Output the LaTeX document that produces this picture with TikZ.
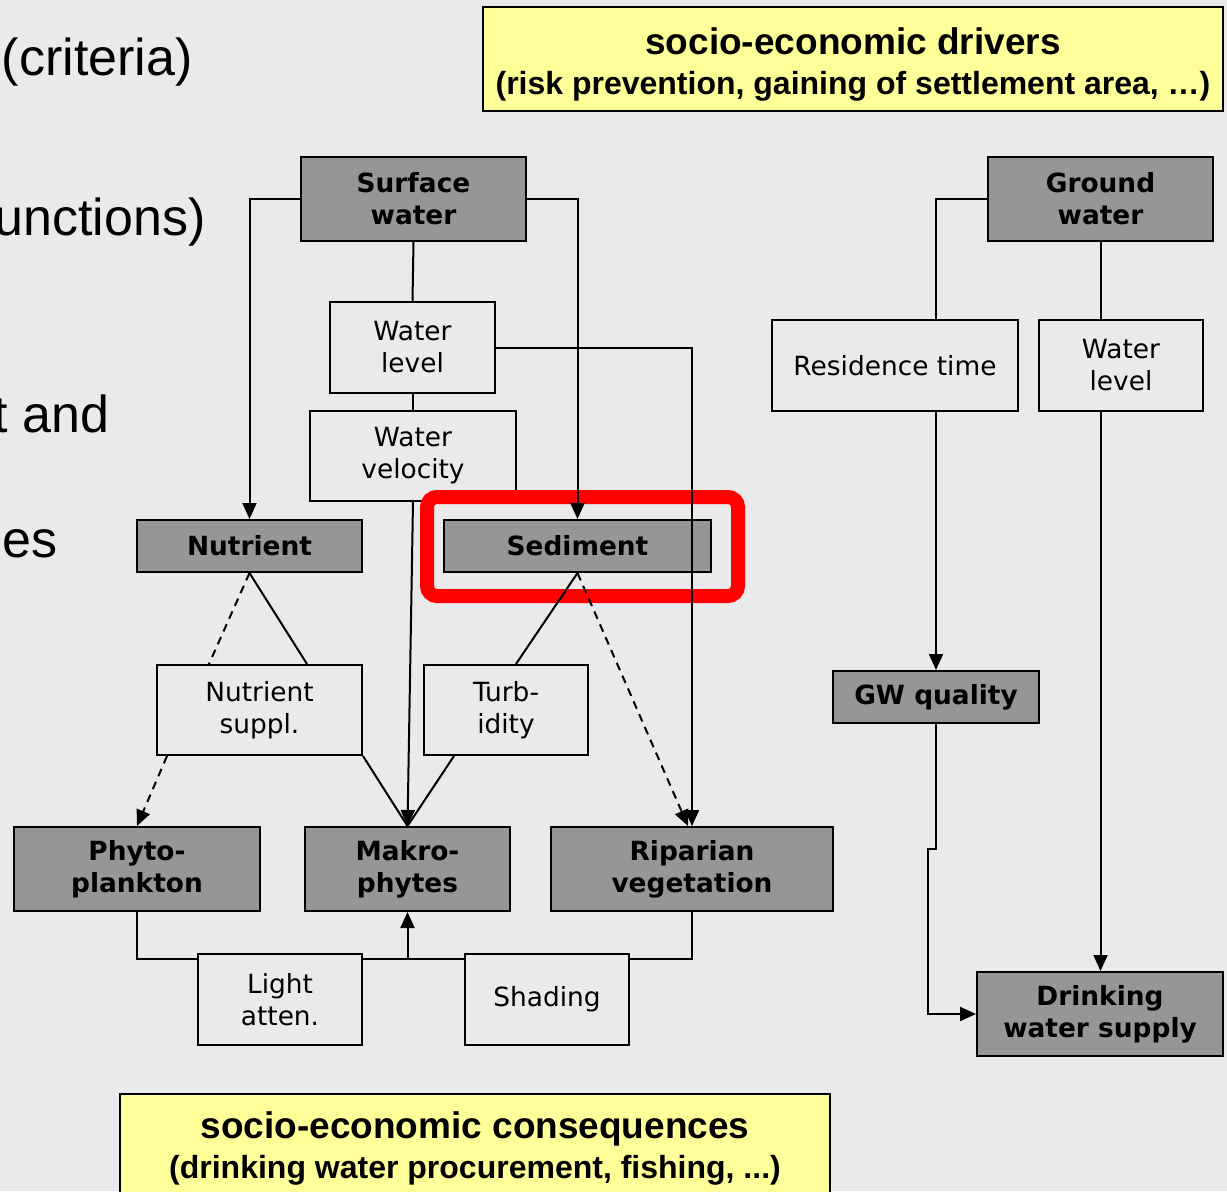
\documentclass[tikz,border=0pt]{standalone}
\usepackage{fontspec}
\setmainfont{DejaVu Sans}
\newfontfamily\arialfont{Liberation Sans}
\usetikzlibrary{arrows.meta,calc}
\definecolor{bgc}{RGB}{234,234,234}
\definecolor{boxgray}{RGB}{150,150,150}
\definecolor{noteyellow}{RGB}{255,255,153}
\tikzset{
  base/.style={draw=black, line width=1pt, align=center, inner sep=0pt,
    font=\fontsize{13.2}{16}\selectfont},
  mainbox/.style={base, fill=boxgray, font=\bfseries\fontsize{13.2}{16}\selectfont},
  factor/.style={base, fill=bgc},
  note/.style={draw=black, line width=1pt, fill=noteyellow, align=center,
    inner sep=0pt, font=\arialfont\bfseries\fontsize{16}{20}\selectfont},
  side/.style={font=\arialfont\fontsize{26}{30}\selectfont, inner sep=0pt, anchor=base east},
  link/.style={line width=1pt},
  tip/.style={-{Triangle[length=8pt,width=7pt]}},
  arr/.style={link, tip},
  weak/.style={line width=1pt, dash pattern=on 4pt off 3pt},
}
\begin{document}
\begin{tikzpicture}[x=0.5pt,y=-0.5pt]
\useasboundingbox (0,0) rectangle (1227,1191);
\clip (0,0) rectangle (1227,1191);
\fill[bgc] (0,0) rectangle (1227,1191);

% fragments of the slide text on the left
\node[side] (t1) at (193,75) {(criteria)};
\node[side] (t2) at (206,235) {unctions)};
\node[side] (t3) at (110,432) {t and};
\node[side] (t4) at (58,557) {es};

% driver and consequence notes
\node[note, minimum width=370pt, minimum height=52pt] (drv) at (853,59)
  {\rule{0pt}{18.5pt}{\fontsize{18.5}{20}\selectfont socio-economic drivers}\\
   (risk prevention, gaining of settlement area, \dots)};
\node[note, minimum width=355pt, minimum height=54pt] (cons) at (475,1148)
  {{\fontsize{18.5}{20}\selectfont socio-economic consequences}\\
   (drinking water procurement, fishing, ...)};

% surface water branch
\node[mainbox, minimum width=112.5pt, minimum height=42pt] (sw) at (413.5,199) {Surface\\water};
\node[factor, minimum width=82.5pt, minimum height=45.5pt] (wl1) at (412.5,347.5) {Water\\level};
\node[factor, minimum width=103pt, minimum height=45pt] (wv) at (413,456) {Water\\velocity};
\node[mainbox, minimum width=112.5pt, minimum height=26pt] (nut) at (249.5,546) {Nutrient};
\node[mainbox, minimum width=133.5pt, minimum height=26pt] (sed) at (577.5,546) {Sediment};
\node[factor, minimum width=102.5pt, minimum height=45pt] (ns) at (259.5,710) {Nutrient\\suppl.};
\node[factor, minimum width=82pt, minimum height=45pt] (tb) at (506,710) {Turb-\\idity};
\node[mainbox, minimum width=123pt, minimum height=42pt] (phy) at (137,869) {Phyto-\\plankton};
\node[mainbox, minimum width=102.5pt, minimum height=42pt] (mak) at (407.5,869) {Makro-\\phytes};
\node[mainbox, minimum width=141pt, minimum height=42pt] (rip) at (692,869) {Riparian\\vegetation};
\node[factor, minimum width=82pt, minimum height=45.5pt] (la) at (280,999.5) {Light\\atten.};
\node[factor, minimum width=82pt, minimum height=45.5pt] (sh) at (547,999.5) {Shading};

% highlight around the sediment box
\draw[red, line width=7pt, rounded corners=5pt] (427,497) rectangle (738,596);

% ground water branch
\node[mainbox, minimum width=112.5pt, minimum height=42pt] (gw) at (1100.5,199) {Ground\\water};
\node[factor, minimum width=123pt, minimum height=45.5pt] (rt) at (895,365.5) {Residence time};
\node[factor, minimum width=82pt, minimum height=45.5pt] (wl2) at (1121,365.5) {Water\\level};
\node[mainbox, minimum width=103pt, minimum height=26pt] (gwq) at (936,697) {GW quality};
\node[mainbox, minimum width=123pt, minimum height=42pt] (dws) at (1100,1014) {Drinking\\water supply};

% surface water connectors
\draw[arr] (sw.west) -| (nut.north);
\draw[arr] (sw.east) -| (sed.north);
\draw[link] (sw.south) -- (wl1.north);
\draw[link] (wl1.south) -- (wl1.south |- wv.north);
\draw[arr] (wl1.east) -| (rip.north);
\draw[arr] (wv.south) -- (mak.north);
\draw[link] (nut.south) -- ([xshift=23.75pt]ns.north);
\draw[weak] (nut.south) -- ([xshift=-25.25pt]ns.north);
\draw[weak, tip] ([xshift=5.5pt]ns.south west) -- (phy.north);
\draw[link] (ns.south east) -- (mak.north);
\draw[link] (sed.south) -- ([xshift=5pt]tb.north);
\draw[weak, tip] (sed.south) -- ([xshift=-2pt]rip.north);
\draw[link] ([xshift=15.5pt]tb.south west) -- (mak.north);

% light connectors below the plant boxes
\coordinate (laL) at ([yshift=-3pt]la.north west);
\coordinate (laR) at ([yshift=-3pt]la.north east);
\coordinate (shL) at ([yshift=-3pt]sh.north west);
\coordinate (shR) at ([yshift=-3pt]sh.north east);
\draw[link] (phy.south) |- (laL);
\draw[link] (laR) -- (shL);
\draw[link] (rip.south) |- (shR);
\draw[arr] (mak.south |- laR) -- (mak.south);

% ground water connectors
\draw[link] (gw.west) -| (gwq.north |- rt.north);
\draw[arr] (gwq.north |- rt.south) -- (gwq.north);
\draw[link] (gw.south) -- (gw.south |- wl2.north);
\draw[arr] (gw.south |- wl2.south) -- (gw.south |- dws.north);
\draw[arr] (gwq.south) -- ++(0,125) -- ++(-8,0) |- (dws.west);
\end{tikzpicture}
\end{document}
